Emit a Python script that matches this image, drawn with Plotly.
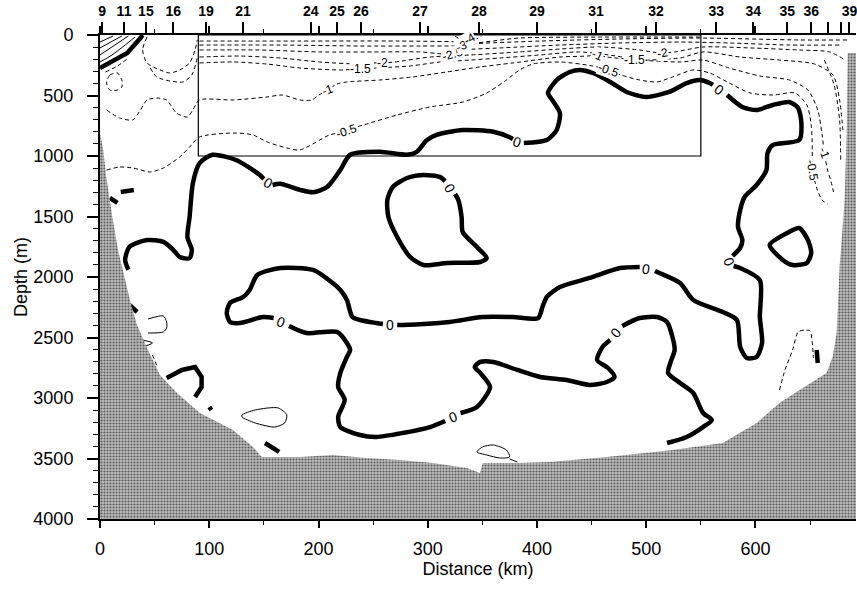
import plotly.graph_objects as go

X_MAX = 692
DEPTH_MAX = 4000

# ---------------- station axis (top) ----------------
station_km = [2, 22, 42, 67, 97, 131, 193, 217, 239, 293, 347, 400, 454, 509, 564, 598, 629, 651, 666, 678, 686]
station_lbl = ['9', '11', '15', '16', '19', '21', '24', '25', '26', '27', '28', '29', '31', '32', '33', '34',
               '35', '36', '', '', '39']

# ---------------- bathymetry (distance km, depth m) ----------------
bathy_x = [0, 3, 5.5, 7.3, 11, 16.5, 22, 27.4, 33.9, 43.9, 54.9, 70.4, 91.5, 121.7, 140, 148, 155.5, 183, 213,
           244, 274.5, 304.7, 335.8, 347.7, 350.4, 381.5, 411.7, 463.9, 524.2, 570, 601.1, 622, 640.4, 665,
           670.6, 674.3, 677, 681.6, 683.4, 684.4, 692]
bathy_y = [810, 950, 1157, 1281, 1488, 1777, 1983, 2190, 2397, 2603, 2810, 2959, 3124, 3264, 3405, 3487, 3487,
           3487, 3471, 3496, 3512, 3537, 3578, 3620, 3537, 3537, 3529, 3487, 3430, 3372, 3206, 3041, 2934,
           2793, 2661, 2463, 1917, 1364, 810, 149, 149]

# ---------------- zero contour (long one, broken at labels) ----------------
z1a_x = [26, 23, 27, 43, 58, 67, 73, 82, 84, 80, 82, 85, 91, 103, 125, 146, 150]
z1a_y = [1940, 1860, 1750, 1695, 1710, 1775, 1835, 1845, 1775, 1670, 1505, 1225, 1060, 990, 1035, 1155, 1190]
z1b_x = [158, 165, 183, 195, 208, 220, 229, 256, 281, 290, 299, 308, 332, 360, 375, 378]
z1b_y = [1240, 1230, 1280, 1300, 1255, 1115, 990, 965, 990, 965, 870, 825, 785, 800, 845, 860]
z1c_x = [388, 409, 418, 421, 414, 410, 418, 430, 439, 451, 467, 482, 500, 521, 537, 549, 558, 561]
z1c_y = [893, 868, 785, 645, 537, 480, 372, 306, 289, 314, 388, 471, 512, 471, 397, 372, 397, 413]
z1d_x = [574, 588, 601, 616, 631, 639, 642, 640, 616, 611, 610, 601, 590, 586, 584, 588, 586, 579]
z1d_y = [496, 595, 620, 578, 554, 603, 727, 868, 909, 975, 1116, 1240, 1339, 1446, 1587, 1694, 1760, 1826]
z1e_x = [580, 586, 604, 604, 606, 601, 592, 586, 583, 570, 543, 531, 512, 508]
z1e_y = [1909, 1926, 2025, 2331, 2545, 2661, 2669, 2578, 2355, 2289, 2190, 2050, 1967, 1950]
z1f_x = [494, 476, 448, 421, 409, 405, 401, 378, 350, 320, 277, 272]
z1f_y = [1917, 1926, 2008, 2083, 2165, 2248, 2339, 2331, 2331, 2372, 2397, 2397]
z1g_x = [259, 253, 238, 231, 226, 220, 213, 195, 165, 144, 137, 131, 119, 116, 119, 128, 149, 159]
z1g_y = [2388, 2380, 2355, 2331, 2190, 2107, 2050, 1942, 1926, 1983, 2107, 2165, 2215, 2297, 2372, 2380, 2331, 2339]
z1h_x = [173, 189, 217, 226, 229, 226, 220, 218, 224, 218, 220, 238, 253, 277, 302, 316]
z1h_y = [2405, 2463, 2454, 2545, 2603, 2661, 2793, 2909, 3016, 3157, 3240, 3306, 3322, 3289, 3240, 3190]
z1i_x = [330, 345, 357, 348, 343, 348, 360, 382, 403, 427, 448, 464, 471, 465, 455, 460, 467]
z1i_y = [3124, 3074, 2909, 2793, 2744, 2702, 2702, 2768, 2826, 2851, 2892, 2868, 2826, 2752, 2686, 2578, 2521]
z1j_x = [478, 494, 510, 519, 524, 526, 522, 520, 531, 543, 552, 560, 552, 537, 519]
z1j_y = [2405, 2339, 2331, 2372, 2496, 2603, 2711, 2793, 2876, 2959, 3124, 3182, 3240, 3322, 3372]

# closed zero loops
loop1_x = [325, 328, 331, 332, 345, 354, 348, 318, 296, 284, 272, 264, 263, 268, 281, 296, 311, 316]
loop1_y = [1314, 1364, 1504, 1628, 1752, 1843, 1876, 1884, 1901, 1835, 1669, 1504, 1364, 1256, 1182, 1157, 1173, 1207]
loop2_x = [613, 629, 640, 648, 651, 647, 634, 625, 613]
loop2_y = [1735, 1636, 1595, 1694, 1802, 1884, 1901, 1859, 1735]

# short pieces of zero contour
bits_x = [[61, 75, 87, 93, 93, 87], [100, 102], [151, 164], [27, 34], [19, 31], [9, 16], [656, 657],
          [0, 9, 25, 37, 39]]
bits_y = [[2835, 2768, 2744, 2826, 2909, 2992], [3074, 3099], [3372, 3446], [2231, 2289], [1297, 1281],
          [1347, 1388], [2603, 2711], [273, 231, 149, 25, 0]]

# positive contours (thin solid)
pos_x = [[130, 142, 163, 171, 169, 160, 142, 130, 130], [345, 350, 360, 372, 375, 366, 354, 345], [375, 382],
         [44, 58, 61, 61, 58, 44], [39, 48, 39], [0, 11, 23, 32], [0, 26], [0, 20], [0, 12]]
pos_y = [[3140, 3099, 3082, 3140, 3206, 3240, 3206, 3157, 3140], [3446, 3405, 3388, 3430, 3487, 3496, 3471, 3446],
         [3504, 3529], [2347, 2322, 2372, 2421, 2454, 2463], [2521, 2545, 2578], [223, 165, 83, 17],
         [165, 8], [107, 8], [58, 8]]

# negative contours (dashed)
neg05_x = [6, 18, 30, 46, 58, 73, 82, 91, 122, 140, 153, 171, 183, 210, 218, 226, 235, 241, 272, 302, 332, 354,
           372, 384, 396, 421, 451, 465, 477, 494, 510, 524, 543, 558, 576, 595, 616, 636, 647, 651, 652, 652,
           656, 661, 666]
neg05_y = [1116, 1091, 1099, 1132, 1099, 1008, 926, 843, 810, 826, 884, 934, 950, 826, 810, 793, 760, 744, 661,
           595, 554, 479, 372, 289, 240, 223, 256, 289, 331, 372, 388, 347, 289, 314, 397, 479, 496, 479, 578,
           744, 950, 1116, 1264, 1364, 1397]
neg1_x = [6, 18, 30, 37, 43, 52, 61, 70, 80, 85, 91, 122, 153, 167, 183, 194, 199, 208, 217, 226, 256, 286, 317,
          348, 378, 421, 446, 455, 464, 494, 531, 552, 576, 604, 631, 648, 657, 661, 663, 666, 670, 672]
neg1_y = [620, 686, 702, 620, 537, 521, 537, 645, 678, 620, 537, 537, 512, 496, 537, 537, 504, 455, 405, 388,
          372, 347, 306, 264, 231, 182, 174, 165, 182, 207, 223, 207, 273, 339, 372, 455, 620, 826, 975, 1116,
          1240, 1322]
neg15_x = [91, 122, 153, 183, 220, 238, 252, 284, 311, 339, 366, 403, 439, 478, 489, 501, 531, 552, 586, 622,
           654, 671, 677, 680]
neg15_y = [231, 223, 240, 273, 289, 281, 273, 256, 223, 207, 190, 165, 140, 182, 207, 207, 190, 140, 182, 207,
           240, 331, 537, 785]
neg2_x = [91, 128, 165, 201, 238, 249, 259, 270, 302, 339, 384, 421, 457, 494, 505, 515, 526, 552, 595, 640,
          668, 682]
neg2_y = [182, 174, 190, 223, 240, 231, 231, 223, 182, 165, 140, 116, 99, 124, 140, 149, 140, 99, 107, 124, 140,
          207]
neg25_x = [91, 146, 201, 256, 293, 314, 323, 334, 366, 421, 476, 531, 576, 631, 677]
neg25_y = [124, 124, 140, 140, 140, 157, 157, 124, 107, 83, 66, 58, 66, 83, 83]
neg3_x = [91, 165, 238, 293, 322, 329, 340, 403, 476, 549, 640, 684]
neg3_y = [83, 83, 91, 91, 91, 91, 74, 50, 33, 25, 41, 41]
neg35_x = [91, 183, 274, 334, 342, 384, 457, 549]
neg35_y = [50, 50, 50, 58, 66, 25, 17, 17]
negmisc_x = [[43, 39, 43, 55, 64, 73, 82, 87, 89], [46, 52, 64, 76, 84, 89], [6, 9, 16, 20, 20, 16, 9, 6],
             [5, 16, 26], [622, 627, 634, 639, 645, 650, 652, 653], [48, 53], [663, 672, 677, 678],
             [325, 331, 343, 349]]
negmisc_y = [[17, 124, 231, 289, 314, 289, 231, 124, 41], [273, 347, 380, 388, 331, 190],
             [397, 331, 314, 372, 430, 455, 455, 397], [306, 256, 190],
             [2934, 2768, 2603, 2454, 2438, 2446, 2545, 2669], [2645, 2752], [207, 413, 702, 1033], [8, 41, 41, 8]]

# contour labels
zero_lbl_x = [154, 382, 567, 576, 500, 265, 166, 323, 472, 320]
zero_lbl_y = [1225, 885, 455, 1876, 1934, 2397, 2372, 3157, 2463, 1264]
zero_lbl_ang = [30, 18, 35, 70, 10, 0, 20, -20, -50, 60]
neg_lbl_txt = ['-0.5', '-0.5', '-0.5', '-1', '-1', '-1', '-1.5', '-1.5', '-2', '-2', '-2.5', '-3', '-4']
neg_lbl_x = [226, 465, 652, 208, 455, 663, 238, 489, 259, 515, 323, 331, 338]
neg_lbl_y = [793, 289, 1116, 455, 165, 975, 281, 207, 231, 149, 157, 91, 33]
neg_lbl_ang = [-18, 20, 80, -20, 25, 70, 0, 0, 0, -10, -15, -20, -30]

# box outlining the upper region
box_x = [90, 550]
box_y = [0, 1000]


def join(xs, ys):
    ox, oy = [], []
    for a, b in zip(xs, ys):
        if ox:
            ox.append(None)
            oy.append(None)
        ox += list(a)
        oy += list(b)
    return ox, oy


fig = go.Figure()


def add(x, y, width, dash='solid', shape='spline'):
    fig.add_trace(go.Scatter(x=x, y=y, mode='lines', connectgaps=False, hoverinfo='skip', showlegend=False,
                             line=dict(color='black', width=width, dash=dash, shape=shape, smoothing=0.7)))


DASH = '4px,3px'
for nx, ny in [(neg05_x, neg05_y), (neg1_x, neg1_y), (neg15_x, neg15_y), (neg2_x, neg2_y),
               (neg25_x, neg25_y), (neg3_x, neg3_y), (neg35_x, neg35_y)]:
    add(nx, ny, 1, DASH)
mx, my = join(negmisc_x, negmisc_y)
add(mx, my, 1, DASH)

px_, py_ = join(pos_x, pos_y)
add(px_, py_, 1)

zx, zy = join([z1a_x, z1b_x, z1c_x, z1d_x, z1e_x, z1f_x, z1g_x, z1h_x, z1i_x, z1j_x],
              [z1a_y, z1b_y, z1c_y, z1d_y, z1e_y, z1f_y, z1g_y, z1h_y, z1i_y, z1j_y])
add(zx, zy, 4.5)
add(loop1_x, loop1_y, 4.5)
add(loop2_x, loop2_y, 4.5)
bx, by = join(bits_x, bits_y)
add(bx, by, 4.5, shape='linear')

# bathymetry (stippled grey)
fig.add_trace(go.Scatter(x=bathy_x + [X_MAX, 0], y=bathy_y + [DEPTH_MAX, DEPTH_MAX], mode='lines',
                         fill='toself', fillcolor='#9a9a9a', line=dict(width=0), hoverinfo='skip',
                         fillpattern=dict(shape='.', fgcolor='#5c5c5c', bgcolor='#bdbdbd', size=3,
                                          solidity=0.4, fillmode='replace'),
                         showlegend=False))

# dummy trace to activate station axis
fig.add_trace(go.Scatter(x=[station_km[0]], y=[0], xaxis='x2', mode='markers', marker=dict(opacity=0),
                         hoverinfo='skip', showlegend=False))

fig.add_shape(type='rect', x0=box_x[0], x1=box_x[1], y0=box_y[0], y1=box_y[1], xref='x', yref='y',
              line=dict(color='black', width=1.2))

FONT = 'Liberation Sans, Arial, sans-serif'
for x, y, a in zip(zero_lbl_x, zero_lbl_y, zero_lbl_ang):
    fig.add_annotation(x=x, y=y, text='0', showarrow=False, textangle=a,
                       font=dict(family=FONT, size=14, color='black'))
for t, x, y, a in zip(neg_lbl_txt, neg_lbl_x, neg_lbl_y, neg_lbl_ang):
    fig.add_annotation(x=x, y=y, text=t, showarrow=False, textangle=a, bgcolor='white', borderpad=0,
                       font=dict(family=FONT, size=12, color='black'))

fig.update_layout(
    width=857, height=589, margin=dict(l=100, r=1, t=35, b=70),
    plot_bgcolor='white', paper_bgcolor='white',
    font=dict(family=FONT, size=18, color='black'),
    xaxis=dict(range=[0, X_MAX], tickvals=[0, 100, 200, 300, 400, 500, 600], ticks='outside', ticklen=7,
               tickwidth=1.5, tickcolor='black', showline=True, linewidth=2, linecolor='black', mirror='ticks',
               showgrid=False, zeroline=False,
               minor=dict(dtick=50, tick0=0, ticks='outside', ticklen=4, tickwidth=1.2, tickcolor='black',
                          showgrid=False),
               title=dict(text='Distance (km)', font=dict(size=18), standoff=2),
               tickfont=dict(size=18), ticklabelstandoff=5),
    yaxis=dict(range=[DEPTH_MAX, 0], tickvals=list(range(0, 4001, 500)), ticks='outside', ticklen=11,
               tickwidth=1.5, tickcolor='black', showline=True, linewidth=2, linecolor='black',
               showgrid=False, zeroline=False,
               minor=dict(dtick=100, tick0=0, ticks='outside', ticklen=5, tickwidth=1.2, tickcolor='black',
                          showgrid=False),
               title=dict(text='Depth (m)', font=dict(size=18), standoff=1),
               tickfont=dict(size=18), ticklabelstandoff=10),
    xaxis2=dict(range=[0, X_MAX], overlaying='x', side='top', anchor='y', tickvals=station_km,
                ticktext=station_lbl, ticks='outside', ticklen=12, tickwidth=1.5, tickcolor='black',
                showline=False, showgrid=False, zeroline=False, ticklabeloverflow='allow',
                tickfont=dict(family='Liberation Sans Narrow, Liberation Sans, Arial', size=14, weight='bold')),
)

fig.write_html('out.html')
